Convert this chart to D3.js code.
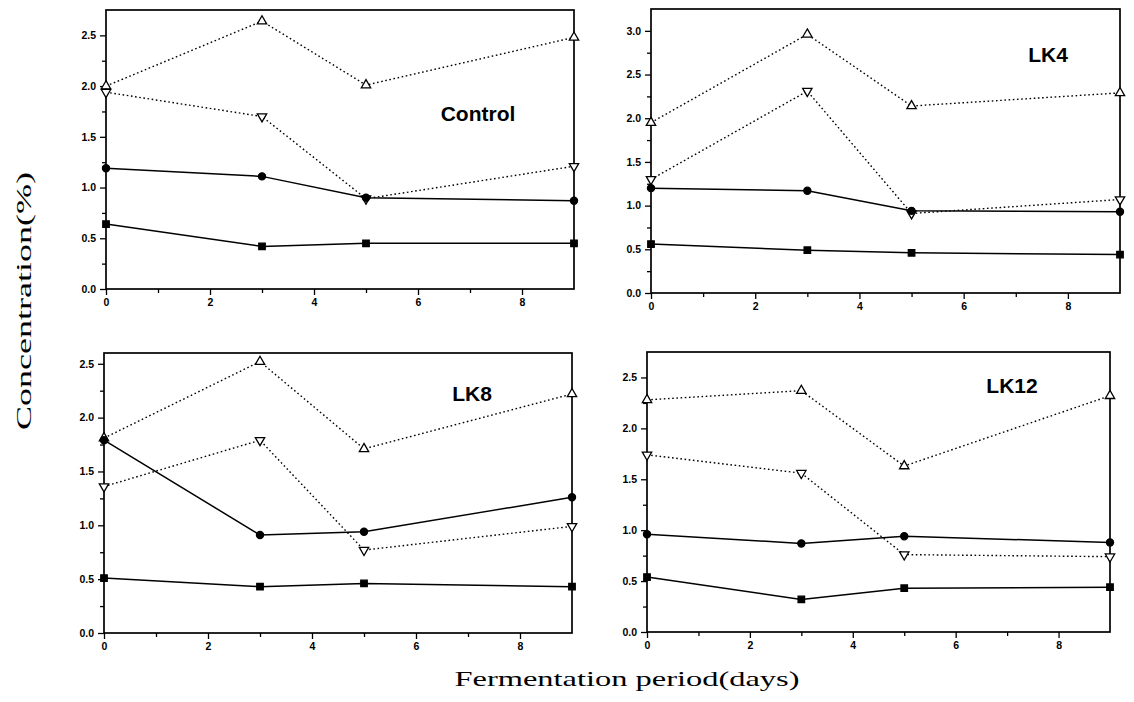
<!DOCTYPE html>
<html>
<head>
<meta charset="utf-8">
<script src="https://cdn.jsdelivr.net/npm/d3@7"></script>
<style>
	body { margin: 0; background: #fff; }
	.tick text { font-family: "Liberation Sans", Arial, sans-serif; font-weight: bold; font-size: 10.5px; fill: #000; }
	.tick line { stroke: #000; stroke-width: 1.3; }
</style>
</head>
<body>
<div id="chart"></div>
<script>
// sampling days (x axis)
const days = [0, 3, 5, 9];
const panelNames = ["Control", "LK4", "LK8", "LK12"];
const yMaxima = [2.75, 3.25, 2.6, 2.75];
const xTickValues = [0, 2, 4, 6, 8];

// one row per panel (Control, LK4, LK8, LK12), one value per day
const openUpValues = [
	[2.00, 2.64, 2.01, 2.48],
	[1.95, 2.96, 2.14, 2.29],
	[1.81, 2.52, 1.71, 2.22],
	[2.28, 2.37, 1.63, 2.32]
];
const openDownValues = [
	[1.94, 1.70, 0.89, 1.21],
	[1.30, 2.31, 0.91, 1.07],
	[1.36, 1.79, 0.77, 0.99],
	[1.74, 1.56, 0.76, 0.74]
];
const circleValues = [
	[1.19, 1.11, 0.90, 0.87],
	[1.20, 1.17, 0.94, 0.93],
	[1.79, 0.91, 0.94, 1.26],
	[0.96, 0.87, 0.94, 0.88]
];
const squareValues = [
	[0.64, 0.42, 0.45, 0.45],
	[0.56, 0.49, 0.46, 0.44],
	[0.51, 0.43, 0.46, 0.43],
	[0.54, 0.32, 0.43, 0.44]
];

// pixel boxes of the four panels and where their names sit
const panelBoxes = [
	{ left: 106, right: 574, top: 10, bottom: 289, labelX: 478, labelY: 121 },
	{ left: 651, right: 1120, top: 9, bottom: 293, labelX: 1048, labelY: 62 },
	{ left: 104, right: 572, top: 353, bottom: 633, labelX: 472, labelY: 401 },
	{ left: 647, right: 1110, top: 352, bottom: 632, labelX: 1012, labelY: 393 }
];

// how each series is drawn
const seriesStyles = [
	{ values: openUpValues, symbol: d3.symbolTriangle, size: 38, rotate: 0, fill: "#fff", dash: "1.6,2.6" },
	{ values: openDownValues, symbol: d3.symbolTriangle, size: 38, rotate: 180, fill: "#fff", dash: "1.6,2.6" },
	{ values: circleValues, symbol: d3.symbolCircle, size: 40, rotate: 0, fill: "#000", dash: null },
	{ values: squareValues, symbol: d3.symbolSquare, size: 42, rotate: 0, fill: "#000", dash: null }
];

class Panel {
	constructor(svg, index) {
		this.index = index;
		this.box = panelBoxes[index];
		this.g = svg.append("g");

		this.setAxes();
		this.drawSeries();
		this.drawLabel();
	}

	setAxes() {
		let box = this.box;
		this.x = d3.scaleLinear().domain([0, 9]).range([box.left, box.right]);
		this.y = d3.scaleLinear().domain([0, yMaxima[this.index]]).range([box.bottom, box.top]);

		// minor ticks first, no labels
		this.g.append("g")
			.attr("transform", `translate(0,${box.bottom})`)
			.call(d3.axisBottom(this.x).tickValues([1, 3, 5, 7]).tickSize(4).tickSizeOuter(0).tickFormat(""))
			.select(".domain").remove();
		this.g.append("g")
			.attr("transform", `translate(${box.left},0)`)
			.call(d3.axisLeft(this.y).tickValues(d3.range(0.25, yMaxima[this.index], 0.5)).tickSize(4).tickSizeOuter(0).tickFormat(""))
			.select(".domain").remove();

		// major ticks with labels
		this.g.append("g")
			.attr("transform", `translate(0,${box.bottom})`)
			.call(d3.axisBottom(this.x).tickValues(xTickValues).tickSize(6).tickSizeOuter(0).tickPadding(4))
			.select(".domain").remove();
		this.g.append("g")
			.attr("transform", `translate(${box.left},0)`)
			.call(d3.axisLeft(this.y).tickValues(d3.range(0, yMaxima[this.index] + 0.001, 0.5))
				.tickFormat(d3.format(".1f")).tickSize(6).tickSizeOuter(0).tickPadding(4))
			.select(".domain").remove();

		// box around the plot area
		this.g.append("rect")
			.attr("x", box.left)
			.attr("y", box.top)
			.attr("width", box.right - box.left)
			.attr("height", box.bottom - box.top)
			.style("fill", "none")
			.style("stroke", "#000")
			.style("stroke-width", 1.7);
	}

	drawSeries() {
		let line = d3.line()
			.x((d, i) => this.x(days[i]))
			.y((d) => this.y(d));

		// lines below the markers
		seriesStyles.forEach((style) => {
			this.g.append("path")
				.datum(style.values[this.index])
				.attr("d", line)
				.style("fill", "none")
				.style("stroke", "#000")
				.style("stroke-width", style.dash ? 1.4 : 1.5)
				.style("stroke-dasharray", style.dash);
		});

		seriesStyles.forEach((style) => {
			this.g.append("g")
				.selectAll("path")
				.data(style.values[this.index])
				.enter()
				.append("path")
				.attr("transform", (d, i) => `translate(${this.x(days[i])},${this.y(d)}) rotate(${style.rotate})`)
				.attr("d", d3.symbol().type(style.symbol).size(style.size))
				.style("fill", style.fill)
				.style("stroke", "#000")
				.style("stroke-width", 1.3);
		});
	}

	drawLabel() {
		this.g.append("text")
			.attr("x", this.box.labelX)
			.attr("y", this.box.labelY)
			.attr("text-anchor", "middle")
			.style("font-family", "'Liberation Sans', Arial, sans-serif")
			.style("font-weight", "bold")
			.style("font-size", "21px")
			.text(panelNames[this.index]);
	}
}

const svg = d3.select("#chart").append("svg")
	.attr("width", 1134)
	.attr("height", 702)
	.style("background", "#fff");

panelNames.forEach((name, i) => new Panel(svg, i));

// shared axis titles
svg.append("text")
	.attr("x", 627)
	.attr("y", 686)
	.attr("text-anchor", "middle")
	.attr("textLength", 345)
	.attr("lengthAdjust", "spacingAndGlyphs")
	.style("font-family", "'Liberation Serif', 'Times New Roman', serif")
	.style("font-size", "22px")
	.text("Fermentation period(days)");

svg.append("text")
	.attr("transform", "translate(31,301) rotate(-90)")
	.attr("text-anchor", "middle")
	.attr("textLength", 258)
	.attr("lengthAdjust", "spacingAndGlyphs")
	.style("font-family", "'Liberation Serif', 'Times New Roman', serif")
	.style("font-size", "22px")
	.text("Concentration(%)");
</script>
</body>
</html>
